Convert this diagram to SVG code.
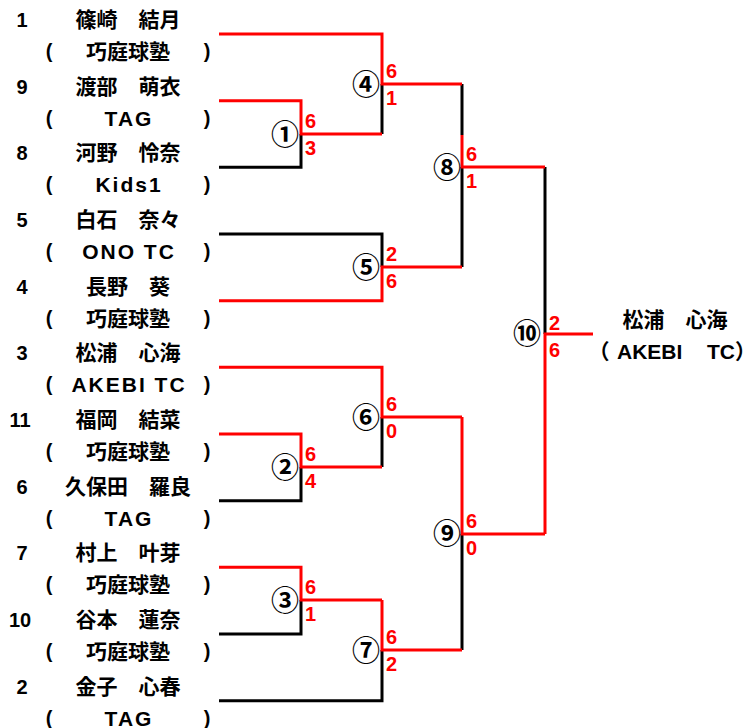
<svg xmlns="http://www.w3.org/2000/svg" width="746" height="728" viewBox="0 0 746 728">
<style>
.num{font-family:"Liberation Sans",Arial,sans-serif;font-weight:bold;font-size:20px;fill:#000;text-anchor:middle}
.name{font-family:"Noto Sans CJK JP","Noto Sans CJK SC",sans-serif;font-weight:bold;font-size:21px;fill:#000;text-anchor:middle}
.team{font-family:"Liberation Sans","Noto Sans CJK JP",sans-serif;font-weight:bold;font-size:21px;fill:#000;text-anchor:middle}
.lat{letter-spacing:2px}
.par{font-family:"Liberation Sans",Arial,sans-serif;font-weight:bold;font-size:20px;fill:#000;text-anchor:middle}
.fw{font-family:"Noto Sans CJK JP","Noto Sans CJK SC",sans-serif;font-weight:bold;font-size:21px;fill:#000;font-feature-settings:"halt"}
.circ{font-family:"Noto Sans CJK JP","Noto Sans CJK SC",sans-serif;font-weight:bold;font-size:28px;fill:#000;text-anchor:middle}
.sc{font-family:"Liberation Sans",Arial,sans-serif;font-weight:bold;font-size:20px;fill:#ff0000}
.blk{fill:none;stroke:#000;stroke-width:3}
.red{fill:none;stroke:#ff0000;stroke-width:3}
</style>
<rect width="746" height="728" fill="#fff"/>

<g id="connectors">
  <path class="blk" d="M219 167.3H301V134"/>
  <path class="blk" d="M382 84V134"/>
  <path class="blk" d="M219 234H382V267"/>
  <path class="blk" d="M462 84V135M462 167V267"/>
  <path class="blk" d="M545 167V334"/>
  <path class="blk" d="M382 417V467"/>
  <path class="blk" d="M219 500.7H301V467"/>
  <path class="blk" d="M219 634H301V600"/>
  <path class="blk" d="M219 700.7H382V650"/>
  <path class="blk" d="M462 534V650"/>
  <path class="red" d="M219 100.7H301V134H382"/>
  <path class="red" d="M219 34H382V84H462"/>
  <path class="red" d="M219 300.7H382V267H462"/>
  <path class="red" d="M462 135V167H545"/>
  <path class="red" d="M219 367.3H382V417H462"/>
  <path class="red" d="M219 434H301V467H382"/>
  <path class="red" d="M219 567.3H301V600H382"/>
  <path class="red" d="M382 600V650H462"/>
  <path class="red" d="M462 417V534H545"/>
  <path class="red" d="M545 534V334H593"/>
</g>

<g id="p1"><text class="num" x="22" y="27">1</text><text class="name" x="128" y="27">篠崎　結月</text><text class="par" x="49" y="58">(</text><text class="team" x="128" y="59">巧庭球塾</text><text class="par" x="207" y="58">)</text></g>
<g id="p9"><text class="num" x="22" y="93.7">9</text><text class="name" x="128" y="93.7">渡部　萌衣</text><text class="par" x="49" y="124.7">(</text><text class="team lat" x="129" y="125.7">TAG</text><text class="par" x="207" y="124.7">)</text></g>
<g id="p8"><text class="num" x="22" y="160.3">8</text><text class="name" x="128" y="160.3">河野　怜奈</text><text class="par" x="49" y="191.3">(</text><text class="team lat" x="129" y="192.3">Kids1</text><text class="par" x="207" y="191.3">)</text></g>
<g id="p5"><text class="num" x="22" y="227">5</text><text class="name" x="128" y="227">白石　奈々</text><text class="par" x="49" y="258">(</text><text class="team lat" x="129" y="259">ONO TC</text><text class="par" x="207" y="258">)</text></g>
<g id="p4"><text class="num" x="22" y="293.7">4</text><text class="name" x="128" y="293.7">長野　葵</text><text class="par" x="49" y="324.7">(</text><text class="team" x="128" y="325.7">巧庭球塾</text><text class="par" x="207" y="324.7">)</text></g>
<g id="p3"><text class="num" x="22" y="360.3">3</text><text class="name" x="128" y="360.3">松浦　心海</text><text class="par" x="49" y="391.3">(</text><text class="team lat" x="129" y="392.3">AKEBI TC</text><text class="par" x="207" y="391.3">)</text></g>
<g id="p11"><text class="num" x="20" y="427">11</text><text class="name" x="128" y="427">福岡　結菜</text><text class="par" x="49" y="458">(</text><text class="team" x="128" y="459">巧庭球塾</text><text class="par" x="207" y="458">)</text></g>
<g id="p6"><text class="num" x="22" y="493.7">6</text><text class="name" x="128" y="493.7">久保田　羅良</text><text class="par" x="49" y="524.7">(</text><text class="team lat" x="129" y="525.7">TAG</text><text class="par" x="207" y="524.7">)</text></g>
<g id="p7"><text class="num" x="22" y="560.3">7</text><text class="name" x="128" y="560.3">村上　叶芽</text><text class="par" x="49" y="591.3">(</text><text class="team" x="128" y="592.3">巧庭球塾</text><text class="par" x="207" y="591.3">)</text></g>
<g id="p10"><text class="num" x="20" y="627">10</text><text class="name" x="128" y="627">谷本　蓮奈</text><text class="par" x="49" y="658">(</text><text class="team" x="128" y="659">巧庭球塾</text><text class="par" x="207" y="658">)</text></g>
<g id="p2"><text class="num" x="22" y="693.7">2</text><text class="name" x="128" y="693.7">金子　心春</text><text class="par" x="49" y="724.5">(</text><text class="team lat" x="129" y="725.5">TAG</text><text class="par" x="207" y="724.5">)</text></g>

<g id="m1"><text class="circ" x="285" y="145">①</text><text class="sc" x="305" y="128">6</text><text class="sc" x="305" y="155">3</text></g>
<g id="m2"><text class="circ" x="285" y="478">②</text><text class="sc" x="305" y="461">6</text><text class="sc" x="305" y="488">4</text></g>
<g id="m3"><text class="circ" x="285" y="611">③</text><text class="sc" x="305" y="594">6</text><text class="sc" x="305" y="621">1</text></g>
<g id="m4"><text class="circ" x="366" y="95">④</text><text class="sc" x="386" y="78">6</text><text class="sc" x="386" y="105">1</text></g>
<g id="m5"><text class="circ" x="366" y="278">⑤</text><text class="sc" x="386" y="261">2</text><text class="sc" x="386" y="288">6</text></g>
<g id="m6"><text class="circ" x="366" y="428">⑥</text><text class="sc" x="386" y="411">6</text><text class="sc" x="386" y="438">0</text></g>
<g id="m7"><text class="circ" x="366" y="661">⑦</text><text class="sc" x="386" y="644">6</text><text class="sc" x="386" y="671">2</text></g>
<g id="m8"><text class="circ" x="447" y="178">⑧</text><text class="sc" x="466" y="161">6</text><text class="sc" x="466" y="188">1</text></g>
<g id="m9"><text class="circ" x="447" y="544">⑨</text><text class="sc" x="466" y="528">6</text><text class="sc" x="466" y="555">0</text></g>
<g id="m10"><text class="circ" x="527" y="344">⑩</text><text class="sc" x="549" y="330">2</text><text class="sc" x="549" y="357">6</text></g>

<g id="winner"><text class="name" x="675" y="327">松浦　心海</text><text class="fw" x="599" y="359">（</text><text class="team" x="617" y="359" style="text-anchor:start">AKEBI</text><text class="team" x="707" y="359" style="text-anchor:start">TC</text><text class="fw" x="735" y="359">）</text></g>
</svg>
